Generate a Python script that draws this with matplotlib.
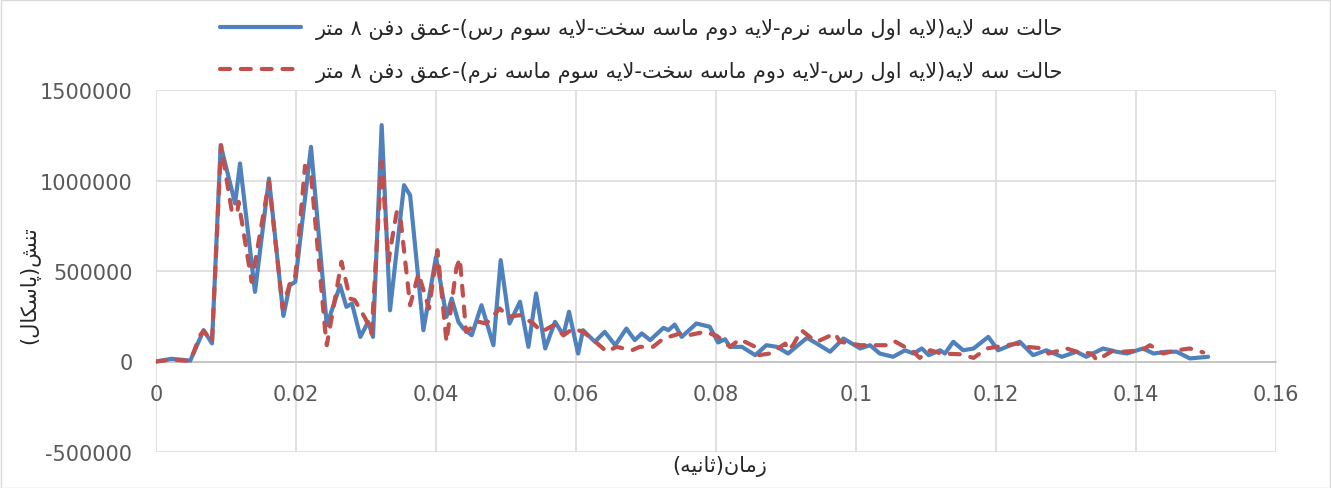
import matplotlib
matplotlib.use("Agg")
import matplotlib.pyplot as plt
from matplotlib.lines import Line2D
from matplotlib.patches import Rectangle

# ---------------- data ----------------
blue_t = [0, 0.0022, 0.0049, 0.0068, 0.008, 0.00924, 0.0113, 0.012, 0.01414, 0.01614,
          0.0182, 0.0191, 0.0199, 0.02214, 0.0244, 0.0263, 0.0272, 0.028, 0.0292, 0.0303,
          0.031, 0.03224, 0.03343, 0.03543, 0.0363, 0.0382, 0.04, 0.0415, 0.04224, 0.0432,
          0.0439, 0.0451, 0.0465, 0.0482, 0.04924, 0.0505, 0.052, 0.0532, 0.0543, 0.0556,
          0.057, 0.0582, 0.059, 0.0603, 0.061, 0.0627, 0.0641, 0.0656, 0.0672, 0.0684,
          0.0694, 0.0706, 0.0725, 0.0732, 0.0741, 0.0751, 0.0772, 0.0791, 0.0803, 0.0813,
          0.082, 0.0837, 0.0856, 0.0872, 0.0887, 0.0903, 0.093, 0.0944, 0.0963, 0.0982,
          0.1006, 0.102, 0.1034, 0.1053, 0.107, 0.1082, 0.1094, 0.1104, 0.112, 0.1127,
          0.1139, 0.1153, 0.1168, 0.1189, 0.1203, 0.1215, 0.1234, 0.1253, 0.1272, 0.1294,
          0.1315, 0.1329, 0.1353, 0.1372, 0.1387, 0.141, 0.1425, 0.1444, 0.1458, 0.1477,
          0.1503]
blue_v = [0, 15000, 5000, 173000, 100000, 1195000, 873000, 1094000, 385000, 1011000,
          252000, 421000, 440000, 1186000, 200000, 421000, 302000, 320000, 136000, 219000,
          136000, 1306000, 283000, 974000, 919000, 173000, 578000, 247000, 348000, 219000,
          182000, 145000, 311000, 90000, 560000, 210000, 330000, 81000, 376000, 72000,
          219000, 145000, 275000, 44000, 173000, 109000, 164000, 90000, 182000, 118000,
          155000, 118000, 186000, 173000, 204000, 136000, 210000, 192000, 105000, 123000,
          81000, 81000, 35000, 90000, 81000, 44000, 131000, 99000, 54000, 127000,
          72000, 90000, 44000, 26000, 62000, 44000, 72000, 35000, 62000, 44000,
          109000, 62000, 72000, 136000, 62000, 81000, 109000, 35000, 62000, 26000,
          54000, 26000, 72000, 54000, 44000, 72000, 44000, 54000, 54000, 17000,
          26000]

red_t = [0, 0.0022, 0.0049, 0.0063, 0.0068, 0.008, 0.00929, 0.0108, 0.0116, 0.0118,
         0.01367, 0.01614, 0.0181, 0.0194, 0.0199, 0.02129, 0.0221, 0.02414, 0.0244, 0.0265,
         0.0277, 0.0284, 0.0299, 0.0308, 0.03224, 0.0332, 0.0339, 0.0344, 0.0349, 0.0363,
         0.0375, 0.039, 0.0402, 0.0415, 0.0429, 0.0434, 0.0443, 0.0461, 0.0472, 0.0491,
         0.0503, 0.052, 0.0539, 0.0551, 0.0568, 0.0582, 0.0596, 0.061, 0.0625, 0.0644,
         0.0658, 0.068, 0.0691, 0.071, 0.0725, 0.0749, 0.0761, 0.0784, 0.0801, 0.082,
         0.0834, 0.0856, 0.0861, 0.0877, 0.0899, 0.0903, 0.091, 0.0922, 0.0937, 0.0944,
         0.097, 0.0977, 0.1006, 0.102, 0.1045, 0.1055, 0.1082, 0.1091, 0.1106, 0.1122,
         0.1149, 0.1168, 0.1187, 0.1201, 0.123, 0.1244, 0.1268, 0.1275, 0.1301, 0.1315,
         0.1337, 0.1344, 0.1368, 0.1382, 0.1408, 0.142, 0.1439, 0.1458, 0.1477, 0.1496]
red_v = [0, 10000, 3000, 145000, 170000, 110000, 1195000, 836000, 818000, 882000,
         440000, 993000, 293000, 468000, 470000, 1081000, 1048000, 182000, 90000, 551000,
         348000, 339000, 238000, 155000, 1103000, 551000, 717000, 827000, 800000, 311000,
         486000, 293000, 615000, 109000, 514000, 569000, 164000, 219000, 210000, 293000,
         247000, 256000, 210000, 164000, 201000, 145000, 182000, 164000, 118000, 54000,
         81000, 62000, 81000, 81000, 127000, 155000, 145000, 164000, 142000, 81000,
         123000, 81000, 35000, 44000, 99000, 62000, 90000, 173000, 127000, 109000,
         155000, 109000, 90000, 90000, 90000, 112000, 54000, 20000, 62000, 44000,
         40000, 20000, 72000, 81000, 99000, 81000, 72000, 44000, 72000, 54000,
         44000, 7000, 62000, 54000, 62000, 90000, 44000, 62000, 72000, 50000]

x_ticks = [0, 0.02, 0.04, 0.06, 0.08, 0.1, 0.12, 0.14, 0.16]
x_tick_labels = ["0", "0.02", "0.04", "0.06", "0.08", "0.1", "0.12", "0.14", "0.16"]
y_ticks = [-500000, 0, 500000, 1000000, 1500000]
y_tick_labels = ["-500000", "0", "500000", "1000000", "1500000"]

label_blue = "حالت سه لایه(لایه اول ماسه نرم-لایه دوم ماسه سخت-لایه سوم رس)-عمق دفن ۸ متر"
label_red = "حالت سه لایه(لایه اول رس-لایه دوم ماسه سخت-لایه سوم ماسه نرم)-عمق دفن ۸ متر"
x_title = "زمان(ثانیه)"
y_title = "تنش(پاسکال)"

# ------------- minimal Arabic/Persian shaping for display -------------
FORMS = {
    'ا': ('\uFE8D', '\uFE8E'),
    'د': ('\uFEA9', '\uFEAA'),
    'ر': ('\uFEAD', '\uFEAE'),
    'ز': ('\uFEAF', '\uFEB0'),
    'و': ('\uFEED', '\uFEEE'),
    'LA': ('\uFEFB', '\uFEFC'),
    'ت': ('\uFE95', '\uFE96', '\uFE97', '\uFE98'),
    'ث': ('\uFE99', '\uFE9A', '\uFE9B', '\uFE9C'),
    'ح': ('\uFEA1', '\uFEA2', '\uFEA3', '\uFEA4'),
    'خ': ('\uFEA5', '\uFEA6', '\uFEA7', '\uFEA8'),
    'س': ('\uFEB1', '\uFEB2', '\uFEB3', '\uFEB4'),
    'ش': ('\uFEB5', '\uFEB6', '\uFEB7', '\uFEB8'),
    'ع': ('\uFEC9', '\uFECA', '\uFECB', '\uFECC'),
    'ف': ('\uFED1', '\uFED2', '\uFED3', '\uFED4'),
    'ق': ('\uFED5', '\uFED6', '\uFED7', '\uFED8'),
    'ک': ('\uFB8E', '\uFB8F', '\uFB90', '\uFB91'),
    'ل': ('\uFEDD', '\uFEDE', '\uFEDF', '\uFEE0'),
    'م': ('\uFEE1', '\uFEE2', '\uFEE3', '\uFEE4'),
    'ن': ('\uFEE5', '\uFEE6', '\uFEE7', '\uFEE8'),
    'ه': ('\uFEE9', '\uFEEA', '\uFEEB', '\uFEEC'),
    'ی': ('\uFBFC', '\uFBFD', '\uFBFE', '\uFBFF'),
    'پ': ('\uFB56', '\uFB57', '\uFB58', '\uFB59'),
}


def shape_rtl(text):
    toks = []
    i = 0
    while i < len(text):
        if text[i] == 'ل' and i + 1 < len(text) and text[i + 1] == 'ا':
            toks.append('LA')
            i += 2
        else:
            toks.append(text[i])
            i += 1
    out = []
    for k, t in enumerate(toks):
        if t not in FORMS:
            out.append(t)
            continue
        f = FORMS[t]
        prev = toks[k - 1] if k > 0 else None
        nxt = toks[k + 1] if k + 1 < len(toks) else None
        jp = prev is not None and prev in FORMS and len(FORMS[prev]) == 4
        jn = len(f) == 4 and nxt is not None and nxt in FORMS
        if jp and jn:
            g = f[3]
        elif jp:
            g = f[1]
        elif jn:
            g = f[2]
        else:
            g = f[0]
        out.append(g)
    vis = ''.join(out)[::-1]
    return vis.translate(str.maketrans('()', ')('))


# ---------------- figure ----------------
plt.rcParams['font.family'] = ['DejaVu Sans']
W, H = 1331, 489
fig = plt.figure(figsize=(W / 100, H / 100), dpi=100)
ax = fig.add_axes([156 / W, 1 - 453 / H, (1276 - 156) / W, (453 - 91) / H])

blue = '#4F81BD'
red = '#C0504D'
grid_c = '#D9D9D9'
text_c = '#595959'
LW = 3.0
DASH = (2.4, 2.6)

ax.plot(blue_t, blue_v, color=blue, lw=LW, solid_joinstyle='round', solid_capstyle='round', zorder=3)
ax.plot(red_t, red_v, color=red, lw=LW, dashes=DASH, dash_capstyle='round',
        dash_joinstyle='round', zorder=4)

ax.set_xlim(0, 0.16)
ax.set_ylim(-500000, 1500000)
ax.set_xticks(x_ticks)
ax.set_xticklabels(x_tick_labels)
ax.set_yticks(y_ticks)
ax.set_yticklabels(y_tick_labels)
ax.grid(True, color=grid_c, lw=1.1, zorder=0)
ax.set_axisbelow(True)
for s in ['top', 'right', 'left']:
    ax.spines[s].set_visible(False)
ax.spines['bottom'].set_position(('data', 0))
ax.spines['bottom'].set_color('#BFBFBF')
ax.spines['bottom'].set_linewidth(1.1)
ax.tick_params(axis='both', length=0, labelsize=15, labelcolor=text_c)
ax.tick_params(axis='x', pad=16)
ax.tick_params(axis='y', pad=17)

fig.text(720 / W, 1 - 467 / H, shape_rtl(x_title), ha='center', va='center', fontsize=15, color='#262626')
fig.text(30 / W, 1 - 285 / H, shape_rtl(y_title), ha='center', va='center', fontsize=15,
         color='#262626', rotation=90)

handles = [Line2D([], [], color=blue, lw=LW, solid_capstyle='round'),
           Line2D([], [], color=red, lw=LW, dashes=DASH, dash_capstyle='round')]
fig.legend(handles, [shape_rtl(label_blue), shape_rtl(label_red)],
           loc='upper left', bbox_to_anchor=(220 / W, 1 - 19 / H), frameon=False,
           fontsize=15, handlelength=3.9, handletextpad=0.7, labelspacing=1.04,
           borderpad=0, borderaxespad=0, labelcolor='#262626')

fig.patches.append(Rectangle((0.5 / W, 0.5 / H), 1 - 1.5 / W, 1 - 1.5 / H, transform=fig.transFigure,
                             fill=False, edgecolor='#D9D9D9', lw=1))

fig.savefig('out.png', dpi=100)
